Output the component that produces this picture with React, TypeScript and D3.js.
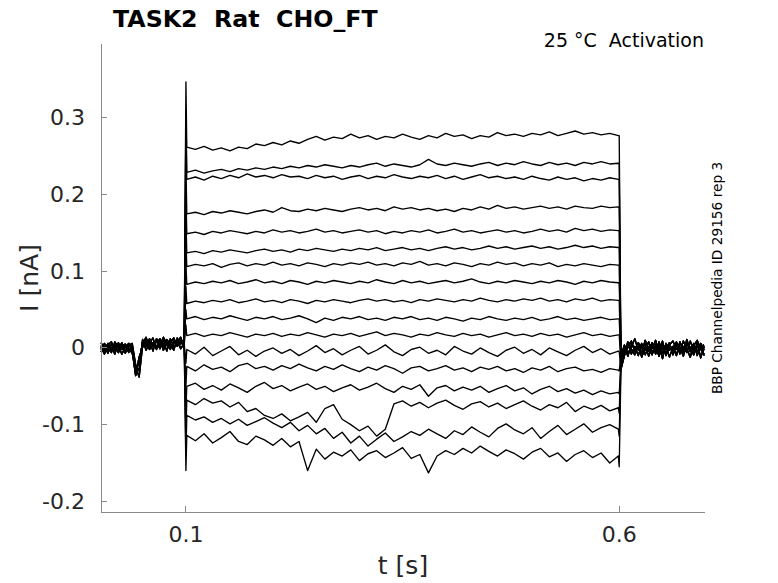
import React from "react";
import * as d3 from "d3";

// ---------- data (nA vs s) ----------
const titleText = "TASK2  Rat  CHO_FT";
const conditionText = "25 °C  Activation";
const sideText = "BBP Channelpedia ID 29156 rep 3";
const xLabel = "t [s]";
const yLabel = "I [nA]";

const xTicks = [0.1, 0.6];
const xTickLabels = ["0.1", "0.6"];
const yTicks = [-0.2, -0.1, 0, 0.1, 0.2, 0.3];
const yTickLabels = ["-0.2", "-0.1", "0", "0.1", "0.2", "0.3"];

const xDomain = [0.002, 0.699];
const yDomain = [-0.214, 0.3965];

const onsetTime = 0.1;
const offsetTime = 0.6;

// sample times
const preTimes = d3.range(25).map((i) => 0.002 + 0.004 * i);
const postTimes = d3.range(25).map((i) => 0.602 + 0.004 * i);
const stepTimes = d3.range(51).map((i) => 0.101 + 0.00996 * i);

// baseline sweeps before the step
const preSweeps: number[][] = [
  [0.003, -0.004, 0.006, -0.002, 0.004, -0.006, 0.002, 0.005, -0.003, 0.001, -0.028, -0.02, 0.008, 0.002, 0.012, 0.004, 0.009, -0.001, 0.011, 0.003, 0.007, 0.013, 0.002, 0.008, 0.004],
  [-0.005, 0.002, -0.007, 0.005, -0.001, 0.003, -0.008, 0.001, 0.006, -0.004, -0.036, -0.012, 0.001, 0.01, -0.002, 0.007, 0.001, 0.012, -0.003, 0.009, 0.0, 0.006, 0.011, -0.001, 0.006],
  [0.007, -0.001, 0.002, -0.006, 0.008, 0.0, 0.005, -0.007, 0.003, 0.006, -0.022, -0.03, 0.011, -0.003, 0.006, 0.013, -0.002, 0.005, 0.008, -0.004, 0.012, 0.001, 0.007, 0.014, 0.0],
  [-0.002, 0.006, -0.004, 0.001, -0.008, 0.007, -0.002, 0.004, -0.006, 0.003, -0.032, -0.016, 0.006, 0.014, 0.0, 0.003, 0.01, 0.004, 0.014, 0.006, -0.002, 0.009, 0.004, 0.01, 0.008],
  [0.001, -0.008, 0.004, 0.008, -0.004, -0.002, 0.007, -0.004, 0.0, -0.007, -0.025, -0.038, 0.003, 0.007, 0.009, -0.004, 0.012, 0.008, 0.002, 0.011, 0.005, -0.003, 0.013, 0.005, 0.011],
];

// baseline sweeps after the step
const postSweeps: number[][] = [
  [-0.018, -0.004, 0.006, -0.008, 0.002, -0.01, 0.004, -0.003, 0.008, -0.006, 0.001, -0.011, 0.005, -0.002, 0.007, -0.009, 0.003, -0.005, 0.009, -0.001, -0.012, 0.004, -0.006, 0.006, -0.003],
  [-0.028, -0.01, 0.002, 0.009, -0.005, 0.005, -0.012, 0.001, -0.004, 0.007, -0.008, 0.003, -0.014, 0.006, -0.003, 0.002, -0.01, 0.008, -0.004, 0.005, 0.001, -0.009, 0.007, -0.013, 0.002],
  [-0.01, 0.004, -0.007, 0.001, 0.012, -0.003, 0.006, -0.009, 0.002, -0.001, 0.01, -0.006, 0.0, -0.008, 0.004, 0.009, -0.002, 0.001, -0.011, 0.007, -0.005, 0.003, 0.01, -0.002, -0.008],
  [-0.022, -0.006, 0.008, -0.002, -0.009, 0.007, -0.001, 0.005, -0.011, 0.004, -0.004, 0.008, -0.007, 0.003, -0.012, 0.001, 0.006, -0.008, 0.002, -0.006, 0.009, -0.004, 0.001, 0.005, -0.01],
  [-0.014, 0.002, -0.011, 0.005, -0.001, 0.001, -0.006, 0.01, -0.002, -0.009, 0.005, -0.003, 0.009, -0.01, 0.001, -0.004, 0.008, -0.001, -0.007, 0.011, -0.003, 0.006, -0.01, 0.002, 0.004],
];

// capacitive transients at step onset / offset
const onsetPeaks = [0.347, 0.31, 0.29, 0.24, 0.2, 0.17, 0.14, 0.11, 0.08, 0.05, 0.03, -0.02, -0.05, -0.08, -0.11, -0.14, -0.16];
const offsetPeaks = [0.277, 0.24, 0.22, 0.183, 0.153, 0.131, 0.108, 0.085, 0.062, 0.038, 0.017, -0.005, -0.03, -0.06, -0.085, -0.115, -0.155];

// current during the voltage step (one row per trace)
const stepCurrents: number[][] = [
  [0.262, 0.259, 0.263, 0.258, 0.261, 0.257, 0.262, 0.26, 0.266, 0.264, 0.268, 0.265, 0.27, 0.267, 0.272, 0.276, 0.271, 0.275, 0.273, 0.279, 0.274, 0.277, 0.272, 0.276, 0.274, 0.279, 0.275, 0.272, 0.277, 0.274, 0.28, 0.276, 0.278, 0.273, 0.277, 0.275, 0.281, 0.277, 0.279, 0.276, 0.28, 0.278, 0.282, 0.277, 0.28, 0.283, 0.279, 0.281, 0.278, 0.28, 0.277],
  [0.229, 0.232, 0.228, 0.231, 0.233, 0.23, 0.234, 0.232, 0.235, 0.233, 0.236, 0.234, 0.237, 0.235, 0.238, 0.236, 0.239, 0.237, 0.235, 0.238, 0.236, 0.239, 0.241, 0.237, 0.24, 0.238, 0.236, 0.239, 0.246, 0.24, 0.238, 0.241, 0.239, 0.237, 0.24, 0.242, 0.238, 0.241, 0.239, 0.243, 0.24, 0.238, 0.242, 0.239, 0.241, 0.238, 0.242, 0.24, 0.243, 0.24, 0.241],
  [0.22, 0.223, 0.219, 0.224, 0.221, 0.225, 0.222, 0.227, 0.223, 0.225, 0.222, 0.226, 0.223, 0.224, 0.221, 0.225, 0.222, 0.224, 0.22, 0.223, 0.225, 0.221, 0.224, 0.222, 0.226, 0.223, 0.221, 0.224, 0.222, 0.225, 0.221, 0.224, 0.22, 0.223, 0.226, 0.222, 0.224, 0.221, 0.223, 0.22, 0.224, 0.221, 0.219, 0.223, 0.22, 0.222, 0.218, 0.221, 0.219, 0.222, 0.22],
  [0.175, 0.177, 0.174, 0.178, 0.176, 0.179, 0.177, 0.175, 0.178, 0.18, 0.177, 0.183, 0.179, 0.178, 0.181, 0.179, 0.182, 0.18, 0.178, 0.181, 0.183, 0.18, 0.182, 0.179, 0.184, 0.181, 0.183, 0.18, 0.182, 0.179, 0.181, 0.178, 0.182, 0.18, 0.184, 0.181, 0.186, 0.182, 0.184, 0.181, 0.183, 0.185, 0.182, 0.184, 0.181, 0.185, 0.183, 0.182, 0.185, 0.183, 0.184],
  [0.149, 0.151, 0.148, 0.152, 0.15, 0.153, 0.151, 0.149, 0.152, 0.15, 0.154, 0.151, 0.153, 0.15, 0.152, 0.155, 0.151, 0.153, 0.15, 0.152, 0.154, 0.151, 0.153, 0.149, 0.152, 0.15, 0.153, 0.151, 0.154, 0.15, 0.152, 0.155, 0.151, 0.153, 0.15, 0.152, 0.154, 0.151, 0.153, 0.15, 0.152, 0.155, 0.152, 0.154, 0.151, 0.156, 0.153, 0.155, 0.152, 0.154, 0.153],
  [0.124, 0.126, 0.123, 0.127, 0.125, 0.128, 0.126, 0.124, 0.127, 0.129, 0.126, 0.128, 0.125, 0.129, 0.127, 0.13, 0.128, 0.126, 0.129, 0.127, 0.13, 0.128, 0.131, 0.127, 0.129, 0.131, 0.128, 0.13, 0.127, 0.13, 0.132, 0.129, 0.131, 0.128, 0.13, 0.133, 0.13, 0.132, 0.129, 0.131, 0.133, 0.13, 0.132, 0.129, 0.131, 0.134, 0.131, 0.133, 0.13, 0.132, 0.131],
  [0.106, 0.109, 0.107, 0.11, 0.105, 0.109, 0.111, 0.107, 0.11, 0.108, 0.112, 0.108, 0.11, 0.107, 0.111, 0.109, 0.106, 0.11, 0.108, 0.111, 0.109, 0.112, 0.108, 0.11, 0.107, 0.111, 0.109, 0.113, 0.108, 0.11, 0.107, 0.111, 0.109, 0.106, 0.11, 0.108, 0.112, 0.109, 0.111, 0.107, 0.11, 0.108, 0.111, 0.106, 0.109, 0.107, 0.11, 0.108, 0.106, 0.109, 0.108],
  [0.083, 0.086, 0.084, 0.087, 0.085, 0.088, 0.084, 0.086, 0.089, 0.085, 0.087, 0.084, 0.088, 0.086, 0.083, 0.087, 0.085, 0.088, 0.086, 0.084, 0.087, 0.085, 0.089, 0.086, 0.084, 0.088, 0.085, 0.087, 0.084, 0.086, 0.088, 0.085, 0.087, 0.09, 0.086, 0.084, 0.087, 0.085, 0.088, 0.086, 0.084, 0.087, 0.085, 0.088, 0.086, 0.083, 0.087, 0.085, 0.088, 0.086, 0.085],
  [0.058, 0.061, 0.059, 0.062, 0.06, 0.063, 0.059, 0.061, 0.064, 0.06, 0.062, 0.059, 0.063, 0.061, 0.058, 0.062, 0.06, 0.063, 0.061, 0.059, 0.062, 0.064, 0.061, 0.063, 0.06, 0.062, 0.059, 0.063, 0.061, 0.064, 0.062, 0.06, 0.063, 0.061, 0.065, 0.062, 0.06, 0.063, 0.061, 0.064, 0.062, 0.065, 0.061, 0.063, 0.06, 0.064, 0.062, 0.065, 0.061, 0.063, 0.062],
  [0.038, 0.041, 0.037, 0.04, 0.038, 0.042, 0.039, 0.036, 0.04, 0.038, 0.041, 0.037, 0.039, 0.042, 0.038, 0.033, 0.039, 0.036, 0.04, 0.038, 0.041, 0.037, 0.039, 0.036, 0.04, 0.038, 0.041, 0.037, 0.039, 0.036, 0.04, 0.038, 0.035, 0.039, 0.037, 0.041, 0.038, 0.036, 0.039, 0.037, 0.04, 0.036, 0.038, 0.041, 0.037, 0.039, 0.036, 0.038, 0.04, 0.037, 0.038],
  [0.016, 0.019, 0.015, 0.018, 0.016, 0.02, 0.017, 0.014, 0.018, 0.016, 0.019, 0.015, 0.018, 0.016, 0.02, 0.017, 0.014, 0.018, 0.016, 0.019, 0.015, 0.018, 0.021, 0.016, 0.019, 0.017, 0.014, 0.018, 0.016, 0.02, 0.017, 0.015, 0.019, 0.016, 0.018, 0.014, 0.017, 0.02, 0.016, 0.018, 0.015, 0.019, 0.016, 0.018, 0.014, 0.017, 0.02, 0.016, 0.018, 0.015, 0.017],
  [-0.002, -0.008, 0.001, -0.01, -0.004, 0.002, -0.009, -0.003, -0.011, -0.004, 0.0, -0.007, -0.002, -0.01, -0.004, 0.003, -0.006, -0.001, -0.009, -0.003, 0.002, -0.008, -0.003, 0.004, -0.005, -0.01, -0.002, 0.001, -0.007, -0.003, -0.009, 0.002, -0.004, -0.008, 0.0, -0.006, -0.011, -0.003, 0.001, -0.007, -0.002, -0.009, 0.0, -0.005, -0.01, -0.003, 0.002, -0.006, -0.001, -0.008, -0.004],
  [-0.024, -0.03, -0.022, -0.028, -0.025, -0.031, -0.023, -0.02, -0.027, -0.024, -0.029, -0.023, -0.027, -0.021, -0.026, -0.03, -0.024, -0.028, -0.022, -0.027, -0.031, -0.025, -0.029, -0.023, -0.027, -0.033, -0.026, -0.024, -0.03, -0.027, -0.023, -0.029, -0.026, -0.031, -0.025, -0.028, -0.024, -0.03, -0.027, -0.032, -0.026, -0.029, -0.024, -0.031, -0.027, -0.025, -0.03, -0.028, -0.032, -0.027, -0.029],
  [-0.05, -0.046, -0.054, -0.049, -0.055, -0.047, -0.052, -0.058, -0.05, -0.045, -0.053, -0.049, -0.056, -0.051, -0.047, -0.054, -0.05, -0.057, -0.052, -0.048, -0.055, -0.051, -0.046, -0.053, -0.058, -0.05, -0.054, -0.048, -0.063, -0.052, -0.049, -0.056, -0.051, -0.055, -0.05, -0.058, -0.053, -0.049, -0.056, -0.052, -0.06, -0.054, -0.05, -0.057, -0.053, -0.059, -0.055, -0.061, -0.056, -0.06, -0.058],
  [-0.068, -0.074, -0.066, -0.072, -0.069, -0.077, -0.071, -0.083, -0.079, -0.088, -0.092, -0.086, -0.095, -0.09, -0.084, -0.097, -0.079, -0.074, -0.093, -0.1, -0.108, -0.102, -0.115, -0.106, -0.073, -0.069, -0.076, -0.071, -0.078, -0.072, -0.068, -0.075, -0.08, -0.073, -0.07, -0.077, -0.072, -0.079, -0.074, -0.069, -0.076, -0.081, -0.074, -0.078, -0.071, -0.083, -0.076, -0.08, -0.075, -0.082, -0.078],
  [-0.088, -0.094, -0.09, -0.097, -0.092, -0.099, -0.093, -0.101, -0.096, -0.091, -0.098, -0.104, -0.097, -0.108, -0.101, -0.112, -0.105, -0.118, -0.11, -0.124, -0.115, -0.128, -0.119, -0.111, -0.122, -0.116, -0.109, -0.114, -0.106, -0.112, -0.118, -0.108, -0.113, -0.103, -0.11, -0.116, -0.105, -0.099, -0.107, -0.112, -0.104, -0.118, -0.109, -0.101, -0.113, -0.106, -0.099, -0.11, -0.104, -0.1, -0.106],
  [-0.114, -0.121, -0.112, -0.124, -0.117, -0.109, -0.122, -0.126, -0.115, -0.12, -0.127, -0.118, -0.129, -0.122, -0.16, -0.132, -0.145, -0.136, -0.141, -0.133, -0.147, -0.138, -0.134, -0.143, -0.137, -0.13, -0.144, -0.139, -0.163, -0.141, -0.134, -0.139, -0.131, -0.137, -0.128, -0.135, -0.141, -0.133, -0.138, -0.145, -0.136, -0.131, -0.142, -0.137, -0.148, -0.139, -0.134, -0.143, -0.137, -0.15, -0.141],
];

// ---------- layout ----------
const W = 778;
const H = 583;
const plot = { left: 101, right: 705, top: 44, bottom: 512 };
const FONT = "'DejaVu Sans', Verdana, sans-serif";
const TEXT_COLOR = "#262626";
const AXIS_COLOR = "#8a8a8a";

export default function App() {
  const x = d3.scaleLinear().domain(xDomain).range([plot.left, plot.right]);
  const y = d3.scaleLinear().domain(yDomain).range([plot.bottom, plot.top]);
  const line = d3
    .line<[number, number]>()
    .x((d) => x(d[0]))
    .y((d) => y(d[1]));

  const traces = stepCurrents.map((vals, i) => {
    const k = i % preSweeps.length;
    const pts: [number, number][] = [];
    preTimes.forEach((t, j) => pts.push([t, preSweeps[k][j]]));
    pts.push([onsetTime, onsetPeaks[i]]);
    stepTimes.forEach((t, j) => pts.push([t, vals[j]]));
    pts.push([offsetTime, offsetPeaks[i]]);
    postTimes.forEach((t, j) => pts.push([t, postSweeps[k][j]]));
    return line(pts) || "";
  });

  const tickLen = 6;
  const midX = (plot.left + plot.right) / 2;
  const midY = (plot.top + plot.bottom) / 2;

  return (
    <svg
      width={W}
      height={H}
      viewBox={`0 0 ${W} ${H}`}
      style={{ position: "absolute", left: 0, top: 0, background: "#fff" }}
      fontFamily={FONT}
    >
      <rect x={0} y={0} width={W} height={H} fill="#fff" />

      {/* traces */}
      <g fill="none" stroke="#000" strokeWidth={1.35} strokeLinejoin="round">
        {traces.map((d, i) => (
          <path key={i} d={d} />
        ))}
      </g>

      {/* axes */}
      <g stroke={AXIS_COLOR} strokeWidth={1} shapeRendering="crispEdges">
        <line x1={plot.left} x2={plot.left} y1={plot.top} y2={plot.bottom} />
        <line x1={plot.left} x2={plot.right} y1={plot.bottom} y2={plot.bottom} />
        {yTicks.map((v) => (
          <line key={"yt" + v} x1={plot.left} x2={plot.left + tickLen} y1={y(v)} y2={y(v)} />
        ))}
        {xTicks.map((v) => (
          <line key={"xt" + v} x1={x(v)} x2={x(v)} y1={plot.bottom} y2={plot.bottom - tickLen} />
        ))}
      </g>

      {/* tick labels */}
      <g fill={TEXT_COLOR} fontSize={22}>
        {yTicks.map((v, i) => (
          <text key={"yl" + v} x={plot.left - 16} y={y(v)} textAnchor="end" dominantBaseline="central">
            {yTickLabels[i]}
          </text>
        ))}
        {xTicks.map((v, i) => (
          <text key={"xl" + v} x={x(v)} y={542} textAnchor="middle">
            {xTickLabels[i]}
          </text>
        ))}
      </g>

      {/* axis labels */}
      <text x={midX} y={574} textAnchor="middle" fontSize={25} fill={TEXT_COLOR}>
        {xLabel}
      </text>
      <text
        transform={`translate(37.5, ${midY}) rotate(-90)`}
        textAnchor="middle"
        fontSize={25}
        fill={TEXT_COLOR}
      >
        {yLabel}
      </text>

      {/* title & annotations */}
      <text x={113} y={27} fontSize={23.7} fontWeight="bold" fill="#000" style={{ whiteSpace: "pre" }}>
        {titleText}
      </text>
      <text x={704} y={47} fontSize={19} textAnchor="end" fill="#000" style={{ whiteSpace: "pre" }}>
        {conditionText}
      </text>
      <text
        transform={`translate(721.7, ${midY}) rotate(-90)`}
        textAnchor="middle"
        fontSize={13.7}
        fill="#000"
      >
        {sideText}
      </text>
    </svg>
  );
}
